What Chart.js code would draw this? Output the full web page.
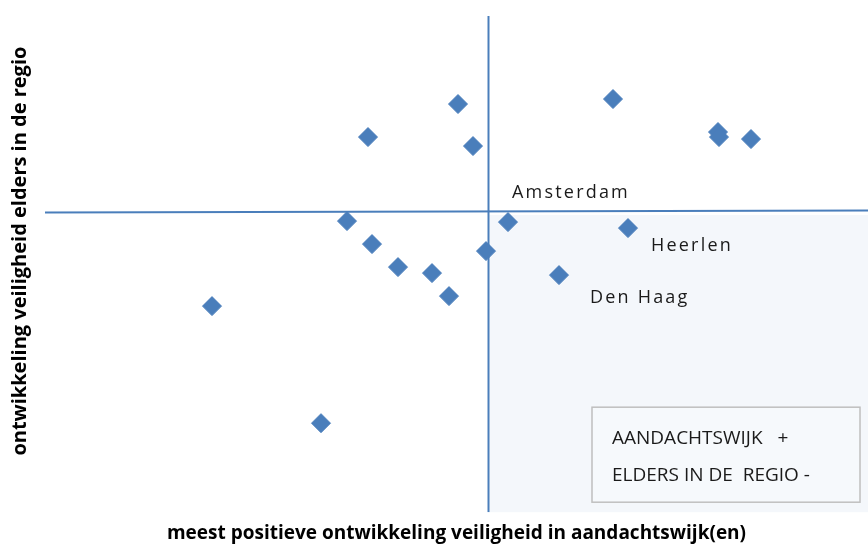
<!DOCTYPE html>
<html>
<head>
<meta charset="utf-8">
<script src="https://cdn.jsdelivr.net/npm/chart.js@4"></script>
<style>
  html, body { margin: 0; padding: 0; background: #fff; }
  #wrap { width: 868px; height: 545px; }
</style>
</head>
<body>
<div id="wrap"><canvas id="chart" width="868" height="545"></canvas></div>
<script>
// scores relative to the average (0,0) - no units shown in the original
const xValues = [-3.0, 12.5, -12.0, -1.5, 23.0, 23.1, 26.3, -14.1, 2.0, 14.0, -11.6, -0.2, -9.0, -5.6, 7.1, -3.9, -27.6, -16.7];
const yValues = [10.8, 11.3, 7.5, 6.6, 8.0, 7.5, 7.3, -0.9, -1.0, -1.6, -3.2, -3.9, -5.5, -6.1, -6.3, -8.4, -9.4, -21.1];
const cityNames = ['Amsterdam', 'Heerlen', 'Den Haag'];
const cityIndex = [8, 9, 14];
const xTitle = 'meest positieve ontwikkeling veiligheid in aandachtswijk(en)';
const yTitle = 'ontwikkeling veiligheid elders in de regio';
const boxLines = ['AANDACHTSWIJK   +', 'ELDERS IN DE  REGIO -'];

const X_MIN = -44.3, X_MAX = 38.0, Y_MIN = -30.0, Y_MAX = 19.6;
const blue = '#4a7ebb';
const fontFam = '"Open Sans", sans-serif';

const points = xValues.map((x, i) => ({ x: x, y: yValues[i] }));

// label offsets (px) from their point
const labelOffsets = [[4, -29], [23, 18], [31, 23]];

const extras = {
  id: 'extras',
  beforeDatasetsDraw(chart) {
    const { ctx, scales: { x, y }, chartArea } = chart;
    // shaded quadrant: aandachtswijk +, elders -
    ctx.save();
    ctx.fillStyle = '#f4f7fb';
    const x0 = x.getPixelForValue(0) + 1;
    const y0 = y.getPixelForValue(0) + 3;
    ctx.fillRect(x0, y0, chartArea.right - x0, chartArea.bottom - y0);
    ctx.restore();
  },
  afterDatasetsDraw(chart) {
    const { ctx, scales: { x, y }, chartArea } = chart;
    ctx.save();
    // city labels
    ctx.fillStyle = '#1a1a1a';
    ctx.font = '18px ' + fontFam;
    ctx.textBaseline = 'middle';
    ctx.letterSpacing = '2.2px';
    cityNames.forEach((name, k) => {
      const i = cityIndex[k];
      const px = x.getPixelForValue(xValues[i]) + labelOffsets[k][0];
      const py = y.getPixelForValue(yValues[i]) + labelOffsets[k][1];
      ctx.fillText(name, px, py);
    });
    // legend-like box bottom right
    ctx.letterSpacing = '0px';
    const bw = 268, bh = 95;
    const bx = chartArea.right - 8 - bw, by = chartArea.bottom - 10 - bh;
    ctx.fillStyle = '#f6f9fc';
    ctx.fillRect(bx, by, bw, bh);
    ctx.strokeStyle = '#bfbfbf';
    ctx.lineWidth = 1.5;
    ctx.strokeRect(bx, by, bw, bh);
    ctx.fillStyle = '#1a1a1a';
    ctx.font = '19px ' + fontFam;
    boxLines.forEach((t, k) => ctx.fillText(t, bx + 20, by + 31 + k * 37));
    ctx.restore();
  }
};

new Chart(document.getElementById('chart'), {
  type: 'scatter',
  data: {
    datasets: [
      {
        data: points,
        pointStyle: 'rectRot',
        pointRadius: 9.5,
        pointBorderWidth: 1,
        backgroundColor: blue,
        borderColor: blue,
        order: 0
      },
      {
        type: 'line',
        data: [{ x: X_MIN, y: -0.05 }, { x: X_MAX, y: 0.15 }],
        borderColor: blue,
        borderWidth: 2,
        pointRadius: 0,
        showLine: true,
        order: 1
      },
      {
        type: 'line',
        data: [{ x: 0.05, y: Y_MAX }, { x: 0.05, y: Y_MIN }],
        borderColor: blue,
        borderWidth: 2,
        pointRadius: 0,
        showLine: true,
        order: 1
      }
    ]
  },
  options: {
    responsive: false,
    animation: false,
    layout: { autoPadding: false, padding: { left: 4, top: 16, right: 0, bottom: 0 } },
    plugins: { legend: { display: false }, tooltip: { enabled: false } },
    scales: {
      x: {
        min: X_MIN, max: X_MAX,
        grid: { display: false, drawTicks: false },
        border: { display: false },
        ticks: { display: false },
        title: {
          display: true, text: xTitle, color: '#000',
          font: { family: fontFam, size: 19, weight: 'bold', lineHeight: 1.2 },
          padding: { top: 10, bottom: 0 }
        }
      },
      y: {
        min: Y_MIN, max: Y_MAX,
        grid: { display: false, drawTicks: false },
        border: { display: false },
        ticks: { display: false },
        title: {
          display: true, text: '\u00a0\u00a0\u00a0\u00a0\u00a0' + yTitle, color: '#000',
          font: { family: fontFam, size: 20, weight: 'bold', lineHeight: 1.2 },
          padding: { top: 4, bottom: 13 }
        }
      }
    }
  },
  plugins: [extras]
});
</script>
</body>
</html>
